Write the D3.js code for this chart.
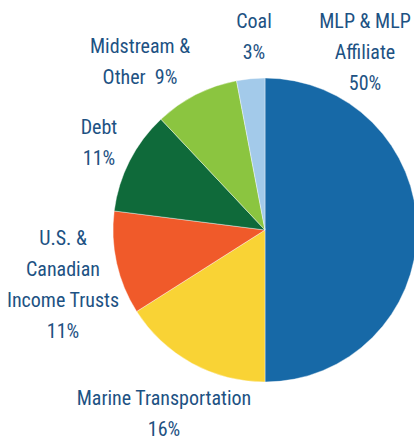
<!DOCTYPE html>
<html>
<head>
<meta charset="utf-8">
<script src="https://cdn.jsdelivr.net/npm/d3@7"></script>
<style>
html,body{margin:0;padding:0;background:#fff;}
svg{display:block;}
</style>
</head>
<body>
<svg id="chart" width="414" height="441"></svg>
<script>
const categories = ["MLP & MLP Affiliate","Marine Transportation","U.S. & Canadian Income Trusts","Debt","Midstream & Other","Coal"];
const values = [50, 16, 11, 11, 9, 3];
const colors = ["#1769a7","#f9d335","#f05a2a","#0f6a3a","#8bc540","#a3caea"];
const labelLines = [
  ["MLP & MLP","Affiliate","50%"],
  ["Marine Transportation","16%"],
  ["U.S. &","Canadian","Income Trusts","11%"],
  ["Debt","11%"],
  ["Midstream &","Other  9%"],
  ["Coal","3%"]
];
// layout: label anchor (center x, first baseline y)
const labelPos = [[365,28],[164,405],[63,245],[99,134],[140,53],[254,28]];

const svg = d3.select("#chart");
const cx = 265, cy = 230, r = 152;
const pie = d3.pie().sort(null).value(d => d)(values);
const arc = d3.arc().innerRadius(0).outerRadius(r);

const g = svg.append("g").attr("transform", `translate(${cx},${cy})`);
g.selectAll("path").data(pie).join("path")
  .attr("d", arc)
  .attr("fill", (d,i) => colors[i])
  .attr("stroke", "#ffffff")
  .attr("stroke-width", 0.4);

const lineH = 31;
const labels = svg.append("g")
  .attr("font-family", "'Liberation Sans Narrow','Arial Narrow','Roboto Condensed',sans-serif")
  .attr("font-size", 20)
  .attr("fill", "#1d5283")
  .attr("text-anchor", "middle");
labelLines.forEach((lines, i) => {
  const t = labels.append("text").attr("x", labelPos[i][0]).attr("y", labelPos[i][1]);
  lines.forEach((ln, j) => {
    t.append("tspan").attr("x", labelPos[i][0]).attr("y", labelPos[i][1] + j*lineH)
      .attr("xml:space","preserve").style("white-space","pre").text(ln);
  });
});
</script>
</body>
</html>
